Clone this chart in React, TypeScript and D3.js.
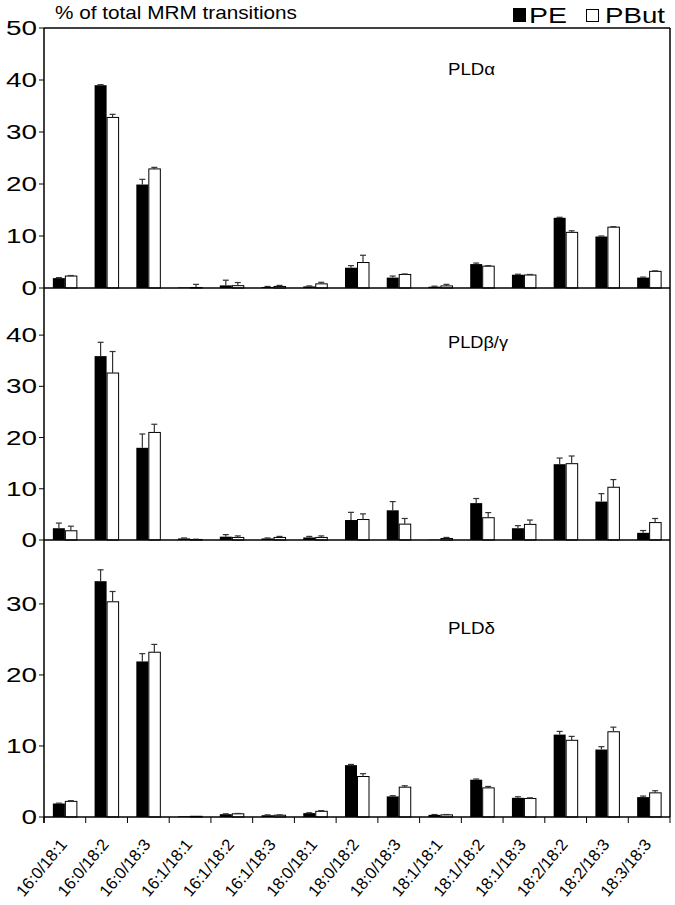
import React from "react";
import * as d3 from "d3";

const categories = ["16:0/18:1","16:0/18:2","16:0/18:3","16:1/18:1","16:1/18:2","16:1/18:3","18:0/18:1","18:0/18:2","18:0/18:3","18:1/18:1","18:1/18:2","18:1/18:3","18:2/18:2","18:2/18:3","18:3/18:3"];

const panelNames = ["PLDα", "PLDβ/γ", "PLDδ"];
const panelMax = [50, 49.2, 39];
const panelTicks = [[0, 10, 20, 30, 40, 50], [0, 10, 20, 30, 40], [0, 10, 20, 30]];

const alphaPE = [1.9, 39.0, 19.9, 0.1, 0.5, 0.2, 0.3, 3.9, 2.0, 0.25, 4.6, 2.55, 13.5, 9.9, 2.0];
const alphaPEerr = [0.1, 0.1, 1.0, 0, 1.0, 0.1, 0.1, 0.4, 0.3, 0.1, 0.2, 0.1, 0.1, 0.1, 0.1];
const alphaPBut = [2.3, 32.8, 22.9, 0.1, 0.45, 0.3, 0.8, 4.9, 2.6, 0.4, 4.2, 2.5, 10.7, 11.7, 3.2];
const alphaPButErr = [0.1, 0.6, 0.3, 0.6, 0.6, 0.2, 0.3, 1.4, 0.1, 0.3, 0.1, 0.1, 0.3, 0.1, 0.1];

const betaPE = [2.3, 35.9, 18.0, 0.3, 0.65, 0.3, 0.5, 3.9, 5.8, 0.05, 7.2, 2.3, 14.8, 7.5, 1.4];
const betaPEerr = [1.0, 2.7, 2.7, 0.1, 0.4, 0.1, 0.2, 1.5, 1.7, 0, 0.9, 0.5, 1.2, 1.55, 0.45];
const betaPBut = [1.8, 32.6, 21.0, 0.1, 0.5, 0.5, 0.5, 4.0, 3.1, 0.3, 4.35, 3.05, 14.9, 10.3, 3.4];
const betaPButErr = [0.9, 4.2, 1.6, 0.05, 0.3, 0.2, 0.3, 1.1, 1.1, 0.2, 1.0, 0.85, 1.5, 1.5, 0.8];

const deltaPE = [1.9, 33.2, 21.9, 0.1, 0.4, 0.25, 0.55, 7.3, 2.9, 0.3, 5.25, 2.7, 11.6, 9.5, 2.8];
const deltaPEerr = [0.05, 1.6, 1.1, 0, 0.05, 0.05, 0.05, 0.1, 0.1, 0.05, 0.1, 0.15, 0.45, 0.4, 0.15];
const deltaPBut = [2.2, 30.3, 23.2, 0.1, 0.45, 0.25, 0.8, 5.7, 4.2, 0.3, 4.1, 2.6, 10.8, 12.0, 3.4];
const deltaPButErr = [0.1, 1.45, 1.1, 0, 0.05, 0.05, 0.1, 0.4, 0.2, 0.05, 0.2, 0.1, 0.55, 0.65, 0.3];

const panels = [
  { pe: alphaPE, peErr: alphaPEerr, pb: alphaPBut, pbErr: alphaPButErr },
  { pe: betaPE, peErr: betaPEerr, pb: betaPBut, pbErr: betaPButErr },
  { pe: deltaPE, peErr: deltaPEerr, pb: deltaPBut, pbErr: deltaPButErr },
];

const W = 675, H = 905;
const left = 44, right = 670;
const panelTops = [28, 288, 540];
const panelBottoms = [288, 540, 817];
const FONT = "'Liberation Sans', Arial, sans-serif";

export default function App() {
  const x = d3.scaleBand<string>().domain(categories).range([left, right]).paddingInner(0).paddingOuter(0);
  const bw = 12;

  return (
    <svg width={W} height={H} style={{ position: "absolute", left: 0, top: 0, background: "#fff" }} fontFamily={FONT}>
      <rect x={0} y={0} width={W} height={H} fill="#fff" />
      {panels.map((p, pi) => {
        const y = d3.scaleLinear().domain([0, panelMax[pi]]).range([panelBottoms[pi], panelTops[pi]]);
        const errBar = (cx: number, v: number, e: number, key: string) => {
          if (e <= 0) return null;
          const y0 = y(v), y1 = y(v + e);
          return (
            <g key={key} stroke="#333" strokeWidth={1.2}>
              <line x1={cx} x2={cx} y1={y0} y2={y1} />
              <line x1={cx - 3} x2={cx + 3} y1={y1} y2={y1} />
            </g>
          );
        };
        return (
          <g key={pi}>
            {categories.map((c, i) => {
              const cx = (x(c) as number) + x.bandwidth() / 2;
              return (
                <g key={c}>
                  <rect x={cx - bw} y={y(p.pe[i])} width={bw} height={y(0) - y(p.pe[i])} fill="#000" />
                  <rect x={cx + 0.5} y={y(p.pb[i])} width={bw - 0.5} height={y(0) - y(p.pb[i])} fill="#fff" stroke="#000" strokeWidth={1} />
                  {errBar(cx - bw / 2, p.pe[i], p.peErr[i], "e1")}
                  {errBar(cx + bw / 2, p.pb[i], p.pbErr[i], "e2")}
                </g>
              );
            })}
            {panelTicks[pi].map((t) => (
              <g key={t}>
                <line x1={left - 5} x2={left} y1={y(t)} y2={y(t)} stroke="#000" strokeWidth={1} />
                <text x={37} y={y(t)} dy="0.36em" textAnchor="end" fontSize={19.5} fill="#000"
                  textLength={15.5 * String(t).length} lengthAdjust="spacingAndGlyphs">{t}</text>
              </g>
            ))}
            <line x1={left} x2={right} y1={y(0)} y2={y(0)} stroke="#000" strokeWidth={1.5} />
            <text x={448} y={panelTops[pi] + [47, 60, 94][pi]} fontSize={16} fill="#000"
              textLength={[47, 60, 47][pi]} lengthAdjust="spacingAndGlyphs">{panelNames[pi]}</text>
          </g>
        );
      })}
      {/* frame */}
      <line x1={left} x2={right} y1={28} y2={28} stroke="#000" strokeWidth={1.5} />
      <line x1={right} x2={right} y1={28} y2={817} stroke="#000" strokeWidth={1.5} />
      <line x1={left} x2={left} y1={28} y2={823} stroke="#000" strokeWidth={1.5} />
      {/* bottom ticks and labels */}
      {categories.map((c) => (
        <line key={c} x1={x(c) as number} x2={x(c) as number} y1={817} y2={823} stroke="#000" strokeWidth={1} />
      ))}
      <line x1={right} x2={right} y1={817} y2={823} stroke="#000" strokeWidth={1} />
      {categories.map((c) => {
        const cx = (x(c) as number) + x.bandwidth() / 2;
        return (
          <text key={c} transform={`translate(${cx + 3},${845}) rotate(-50)`} textAnchor="end" fontSize={16.5}
            fill="#000">{c}</text>
        );
      })}
      {/* title */}
      <text x={55} y={19} fontSize={19} fill="#000" textLength={242} lengthAdjust="spacingAndGlyphs">% of total MRM transitions</text>
      {/* legend */}
      <rect x={513} y={8} width={13} height={14} fill="#000" />
      <text x={529} y={23} fontSize={22} fill="#000" textLength={38} lengthAdjust="spacingAndGlyphs">PE</text>
      <rect x={586.5} y={9.5} width={12} height={12} fill="#fff" stroke="#000" strokeWidth={1} />
      <text x={605} y={23} fontSize={22} fill="#000" textLength={60} lengthAdjust="spacingAndGlyphs">PBut</text>
    </svg>
  );
}
